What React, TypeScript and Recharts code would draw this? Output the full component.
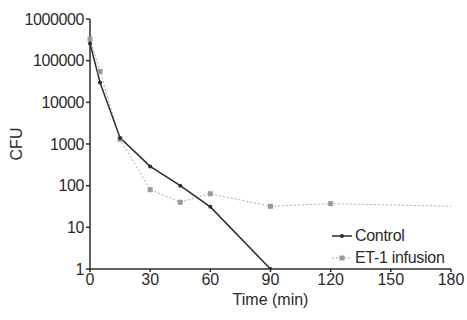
import { Line, LineChart, XAxis, YAxis, Label } from "recharts";

const times = [0, 5, 15, 30, 45, 60, 90, 120, 180];
const control = [260000, 30000, 1400, 290, 100, 31, 1, null, null];
const et1 = [330000, 55000, 1300, 80, 40, 64, 32, 37, 32];
const xTicks = [0, 30, 60, 90, 120, 150, 180];
const yTicks = [1, 10, 100, 1000, 10000, 100000, 1000000];

const data = times.map((t, i) => ({ t, control: control[i], et1: et1[i] }));

const font = "'Liberation Sans', Arial, sans-serif";
const ink = "#2b2b2b";
const fs = 16;

function SquareDot(props: any) {
  const { cx, cy } = props;
  if (cx == null || cy == null) return null;
  return <rect x={cx - 2.5} y={cy - 2.5} width={5} height={5} fill="#999" />;
}

function LegendBox() {
  const rows = [
    { label: "Control", color: ink, dash: undefined as string | undefined, square: false },
    { label: "ET-1 infusion", color: "#aaa", dash: "2 2", square: true },
  ];
  return (
    <div style={{ position: "absolute", left: 331, top: 225, fontFamily: font, fontSize: fs, color: ink }}>
      {rows.map((r) => (
        <div key={r.label} style={{ display: "flex", alignItems: "center", height: 22 }}>
          <svg width={22} height={10} style={{ marginRight: 2 }}>
            <line x1={1} y1={5} x2={21} y2={5} stroke={r.color} strokeWidth={r.square ? 1 : 1.5} strokeDasharray={r.dash} />
            {r.square ? (
              <rect x={8.5} y={2.5} width={5} height={5} fill="#999" />
            ) : (
              <circle cx={11} cy={5} r={2} fill={ink} />
            )}
          </svg>
          <span style={{ letterSpacing: -0.3 }}>{r.label}</span>
        </div>
      ))}
    </div>
  );
}

export default function App() {
  return (
    <div style={{ position: "absolute", left: 0, top: 0, width: 467, height: 320, background: "#fff" }}>
      <LineChart width={467} height={320} data={data} margin={{ top: 19, right: 16, bottom: 11, left: 0 }}>
        <XAxis
          dataKey="t"
          type="number"
          domain={[0, 180]}
          ticks={xTicks}
          interval={0}
          height={40}
          stroke={ink}
          strokeWidth={1.5}
          tickSize={3}
          tick={{ fontSize: fs, fill: ink, fontFamily: font }}
        >
          <Label value="Time (min)" position="insideBottom" offset={4} style={{ fontSize: fs, fill: ink, fontFamily: font }} />
        </XAxis>
        <YAxis
          scale="log"
          domain={[1, 1000000]}
          ticks={yTicks}
          interval={0}
          allowDataOverflow
          width={90}
          stroke={ink}
          strokeWidth={1.5}
          tickSize={4}
          tick={{ fontSize: fs, fill: ink, fontFamily: font, letterSpacing: -0.4 }}
        >
          <Label value="CFU" angle={-90} position="insideLeft" offset={16} style={{ fontSize: fs, fill: ink, fontFamily: font, textAnchor: "middle" }} />
        </YAxis>
        <Line
          dataKey="et1"
          stroke="#aaa"
          strokeWidth={1}
          strokeDasharray="2 2"
          dot={(p: any) => (p.payload.t === 180 ? <g key={p.key} /> : <SquareDot key={p.key} {...p} />)}
          isAnimationActive={false}
        />
        <Line
          dataKey="control"
          stroke={ink}
          strokeWidth={1.5}
          dot={{ r: 2, fill: ink, stroke: "none" }}
          isAnimationActive={false}
        />
      </LineChart>
      <LegendBox />
    </div>
  );
}
